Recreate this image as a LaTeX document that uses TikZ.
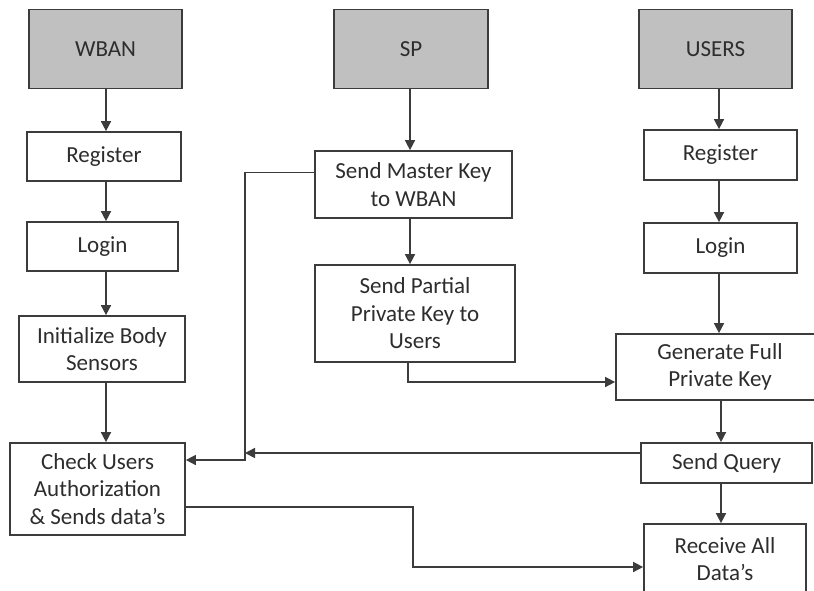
\documentclass[tikz,border=0pt]{standalone}
\usepackage{fontspec}
\setmainfont{Carlito}
\usetikzlibrary{arrows.meta}
\definecolor{edgegray}{RGB}{60,60,60}
\definecolor{headgray}{RGB}{192,192,192}
\definecolor{txtgray}{RGB}{45,45,45}
\begin{document}
\begin{tikzpicture}[x=1pt, y=-1pt,
    box/.style={draw=edgegray, line width=1.7pt, align=center, inner sep=0pt, fill=white,
        text=txtgray, font=\fontsize{23}{27.5}\selectfont},
    head/.style={box, fill=headgray},
    flow/.style={draw=edgegray, line width=1.5pt, -{Triangle[length=10pt, width=10pt]}}]
        \clip (0,0) rectangle (814,590);
        \fill[white] (0,0) rectangle (814,590);
        % WBAN column
        \node[head, minimum width=153, minimum height=79] (W_HEAD) at (105.5,49) {WBAN};
        \node[box, minimum width=154, minimum height=49] (W_REG) at (104,156.5) {Register};
        \node[box, minimum width=151, minimum height=49] (W_LOGIN) at (102.5,246.5) {Login};
        \node[box, minimum width=166, minimum height=66] (W_INIT) at (102,349) {Initialize Body\\Sensors};
        \node[box, minimum width=175, minimum height=92] (W_CHECK) at (97.5,489) {Check Users\\Authorization\\\& Sends data’s};
        % SP column
        \node[head, minimum width=154, minimum height=79] (S_HEAD) at (411,49) {SP};
        \node[box, minimum width=197, minimum height=67] (S_MASTER) at (413.5,184.5) {Send Master Key\\to WBAN};
        \node[box, minimum width=200, minimum height=97] (S_PARTIAL) at (415,313.5) {Send Partial\\Private Key to\\Users};
        % USERS column
        \node[head, minimum width=153, minimum height=79] (U_HEAD) at (715.5,49) {USERS};
        \node[box, minimum width=153, minimum height=50] (U_REG) at (720.5,155) {Register};
        \node[box, minimum width=153, minimum height=50] (U_LOGIN) at (720.5,248) {Login};
        \node[box, minimum width=208, minimum height=66] (U_GEN) at (720,367) {Generate Full\\Private Key};
        \node[box, minimum width=171, minimum height=40] (U_QUERY) at (726.5,463) {Send Query};
        \node[box, minimum width=162, minimum height=70] (U_RECV) at (725,559) {Receive All\\Data’s};
        % straight arrows
        \draw[flow] (W_HEAD.south -| 106,0) -- (W_REG.north -| 106,0);
        \draw[flow] (W_REG.south -| 106,0) -- (W_LOGIN.north -| 106,0);
        \draw[flow] (W_LOGIN.south -| 106,0) -- (W_INIT.north -| 106,0);
        \draw[flow] (W_INIT.south -| 106,0) -- (W_CHECK.north -| 106,0);
        \draw[flow] (S_HEAD.south -| 410,0) -- (S_MASTER.north -| 410,0);
        \draw[flow] (S_MASTER.south -| 410,0) -- (S_PARTIAL.north -| 410,0);
        \draw[flow] (U_HEAD.south -| 719,0) -- (U_REG.north -| 719,0);
        \draw[flow] (U_REG.south -| 719,0) -- (U_LOGIN.north -| 719,0);
        \draw[flow] (U_LOGIN.south -| 719,0) -- (U_GEN.north -| 719,0);
        \draw[flow] (U_GEN.south -| 721,0) -- (U_QUERY.north -| 721,0);
        \draw[flow] (U_QUERY.south -| 721,0) -- (U_RECV.north -| 721,0);
        % elbow arrows
        \coordinate (BUS) at (245,460);
        \coordinate (JOIN) at (245,453);
        \coordinate (SPLIT) at (408,382);
        \coordinate (TURN) at (413,567);
        \draw[flow] ([yshift=12pt]S_MASTER.west) -| (BUS) -- (BUS -| W_CHECK.east);
        \draw[flow] (JOIN -| U_QUERY.west) -- (JOIN);
        \draw[flow] (SPLIT |- S_PARTIAL.south) -- (SPLIT) -- (SPLIT -| U_GEN.west);
        \draw[flow] ([yshift=-18pt]W_CHECK.east) -| (TURN) -- (TURN -| U_RECV.west);
\end{tikzpicture}
\end{document}
